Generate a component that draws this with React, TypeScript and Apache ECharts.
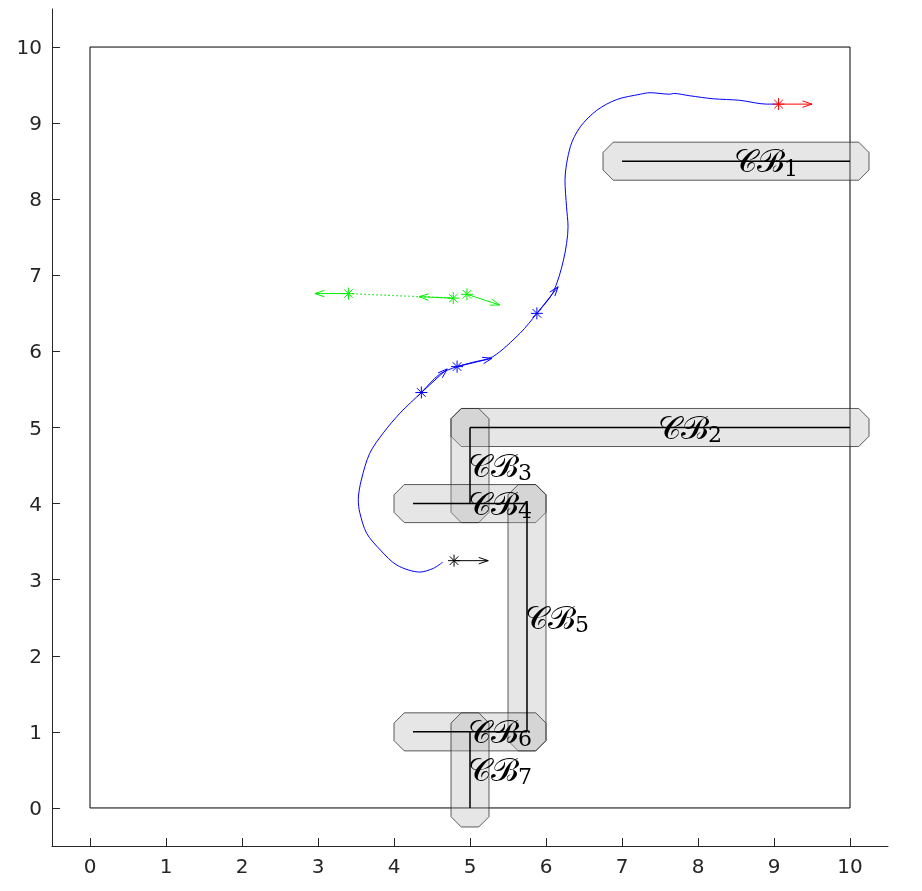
import React, { useEffect, useRef } from "react";
import * as echarts from "echarts";

const tickValues = [0, 1, 2, 3, 4, 5, 6, 7, 8, 9, 10];
const boxCorners = [[0, 0], [10, 0], [10, 10], [0, 10], [0, 0]];

const corridorNames = ["1", "2", "3", "4", "5", "6", "7"];
const corridorStarts = [[7, 8.5], [5, 5], [5, 5], [4.25, 4], [5.75, 4], [4.25, 1], [5, 1]];
const corridorEnds = [[10, 8.5], [10, 5], [5, 4], [5.75, 4], [5.75, 1], [5.75, 1], [5, 0]];
const corridorHalfWidth = 0.25;
const corridorChamferHalfSide = 0.115;

const trajectory = [
  [4.64, 3.23], [4.52, 3.15], [4.34, 3.10], [4.04, 3.19], [3.82, 3.39], [3.64, 3.61],
  [3.55, 3.88], [3.53, 4.05], [3.57, 4.31], [3.68, 4.66], [3.86, 4.93], [4.08, 5.19],
  [4.36, 5.46], [4.60, 5.70], [4.83, 5.80], [5.05, 5.86], [5.30, 5.93], [5.66, 6.24],
  [5.88, 6.50], [6.09, 6.77], [6.23, 7.20], [6.29, 7.64], [6.27, 7.90], [6.25, 8.25],
  [6.32, 8.69], [6.45, 8.95], [6.67, 9.17], [6.93, 9.31], [7.24, 9.38], [7.37, 9.40],
  [7.63, 9.38], [7.68, 9.39], [7.89, 9.36], [8.20, 9.32], [8.55, 9.30], [8.90, 9.25],
  [9.06, 9.25],
];

const markerPoints = [[4.79, 3.25], [4.36, 5.46], [4.83, 5.80], [5.88, 6.50], [9.06, 9.25], [3.40, 6.76], [4.78, 6.70], [4.96, 6.75]];
const arrowTips = [[5.24, 3.25], [4.70, 5.77], [5.29, 5.91], [6.16, 6.85], [9.50, 9.25], [2.96, 6.76], [4.33, 6.72], [5.39, 6.61]];
const markerColors = ["#000000", "#0000ff", "#0000ff", "#0000ff", "#ff0000", "#00ee00", "#00ee00", "#00ee00"];
const greenDotted = [[3.40, 6.76], [4.78, 6.70]];

export default function App() {
  const ref = useRef<HTMLDivElement>(null);
  useEffect(() => {
    if (!ref.current) return;
    const chart = echarts.init(ref.current, null, { renderer: "svg" });
    const h = corridorHalfWidth;
    const c = corridorChamferHalfSide;
    const corridorData = corridorStarts.map((s, i) => [s[0], s[1], corridorEnds[i][0], corridorEnds[i][1]]);
    const arrowData = markerPoints.map((p, i) => [p[0], p[1], arrowTips[i][0], arrowTips[i][1], i]);

    const axisCommon = {
      type: "value",
      min: -0.5,
      max: 10.5,
      splitLine: { show: false },
      axisLine: { show: true, onZero: false, lineStyle: { color: "#262626", width: 1 } },
      axisTick: { show: true, inside: true, length: 8, customValues: tickValues, lineStyle: { color: "#262626" } },
      axisLabel: { customValues: tickValues, color: "#262626", fontSize: 20, fontFamily: "DejaVu Sans", margin: 10 },
    };

    chart.setOption({
      animation: false,
      grid: { left: 52, right: 34, top: 9, bottom: 45, containLabel: false },
      xAxis: { ...axisCommon, position: "bottom" },
      yAxis: { ...axisCommon, position: "left" },
      series: [
        {
          type: "line",
          data: boxCorners,
          symbol: "none",
          lineStyle: { color: "#000", width: 1 },
          z: 1,
        },
        {
          type: "custom",
          data: corridorData,
          z: 2,
          renderItem: (params: any, api: any) => {
            const x1 = api.value(0), y1 = api.value(1), x2 = api.value(2), y2 = api.value(3);
            const minX = Math.min(x1, x2), maxX = Math.max(x1, x2);
            const minY = Math.min(y1, y2), maxY = Math.max(y1, y2);
            const pts = [
              [minX - h, minY - c], [minX - h, maxY + c], [minX - c, maxY + h], [maxX + c, maxY + h],
              [maxX + h, maxY + c], [maxX + h, minY - c], [maxX + c, minY - h], [minX - c, minY - h],
            ].map((p) => api.coord(p));
            return {
              type: "polygon",
              shape: { points: pts },
              style: { fill: "rgba(180,180,180,0.33)", stroke: "rgba(40,40,40,0.75)", lineWidth: 1 },
            };
          },
        },
        {
          type: "custom",
          data: corridorData,
          z: 3,
          renderItem: (params: any, api: any) => {
            const a = api.coord([api.value(0), api.value(1)]);
            const b = api.coord([api.value(2), api.value(3)]);
            return {
              type: "line",
              shape: { x1: a[0], y1: a[1], x2: b[0], y2: b[1] },
              style: { stroke: "#000", lineWidth: 1.5 },
            };
          },
        },
        {
          type: "line",
          data: trajectory,
          symbol: "none",
          smooth: 0.3,
          lineStyle: { color: "#0000ff", width: 1 },
          z: 4,
        },
        {
          type: "line",
          data: greenDotted,
          symbol: "none",
          lineStyle: { color: "#00ee00", width: 1.2, type: [1.5, 2.5] },
          z: 4,
        },
        {
          type: "custom",
          data: arrowData,
          z: 5,
          renderItem: (params: any, api: any) => {
            const a = api.coord([api.value(0), api.value(1)]);
            const b = api.coord([api.value(2), api.value(3)]);
            const col = markerColors[params.dataIndex];
            const ang = Math.atan2(b[1] - a[1], b[0] - a[0]);
            const hl = 10, ha = 0.33;
            const l1 = [b[0] - hl * Math.cos(ang - ha), b[1] - hl * Math.sin(ang - ha)];
            const l2 = [b[0] - hl * Math.cos(ang + ha), b[1] - hl * Math.sin(ang + ha)];
            const r = 6, d = 4.3;
            const st = { stroke: col, lineWidth: 1 };
            return {
              type: "group",
              children: [
                { type: "line", shape: { x1: a[0], y1: a[1], x2: b[0], y2: b[1] }, style: st },
                { type: "polyline", shape: { points: [l1, b, l2] }, style: { ...st, fill: null } },
                { type: "line", shape: { x1: a[0], y1: a[1] - r, x2: a[0], y2: a[1] + r }, style: st },
                { type: "line", shape: { x1: a[0] - r, y1: a[1], x2: a[0] + r, y2: a[1] }, style: st },
                { type: "line", shape: { x1: a[0] - d, y1: a[1] - d, x2: a[0] + d, y2: a[1] + d }, style: st },
                { type: "line", shape: { x1: a[0] - d, y1: a[1] + d, x2: a[0] + d, y2: a[1] - d }, style: st },
              ],
            };
          },
        },
        {
          type: "custom",
          data: corridorData,
          z: 6,
          renderItem: (params: any, api: any) => {
            const mx = (api.value(0) + api.value(2)) / 2;
            const my = (api.value(1) + api.value(3)) / 2;
            const p = api.coord([mx, my]);
            return {
              type: "text",
              x: p[0] - 2,
              y: p[1],
              style: {
                text: "{a|\u{1D49E}\u212C}{b|" + corridorNames[params.dataIndex] + "}",
                align: "left",
                verticalAlign: "middle",
                fill: "#000",
                rich: {
                  a: { fontSize: 32, fontFamily: "DejaVu Serif", fill: "#000", lineHeight: 36, verticalAlign: "middle" },
                  b: { fontSize: 22, fontFamily: "DejaVu Serif", fill: "#000", lineHeight: 36, verticalAlign: "bottom" },
                },
              },
            };
          },
        },
      ],
    });
    return () => chart.dispose();
  }, []);
  return <div ref={ref} style={{ position: "fixed", left: 0, top: 0, width: 922, height: 891 }} />;
}
